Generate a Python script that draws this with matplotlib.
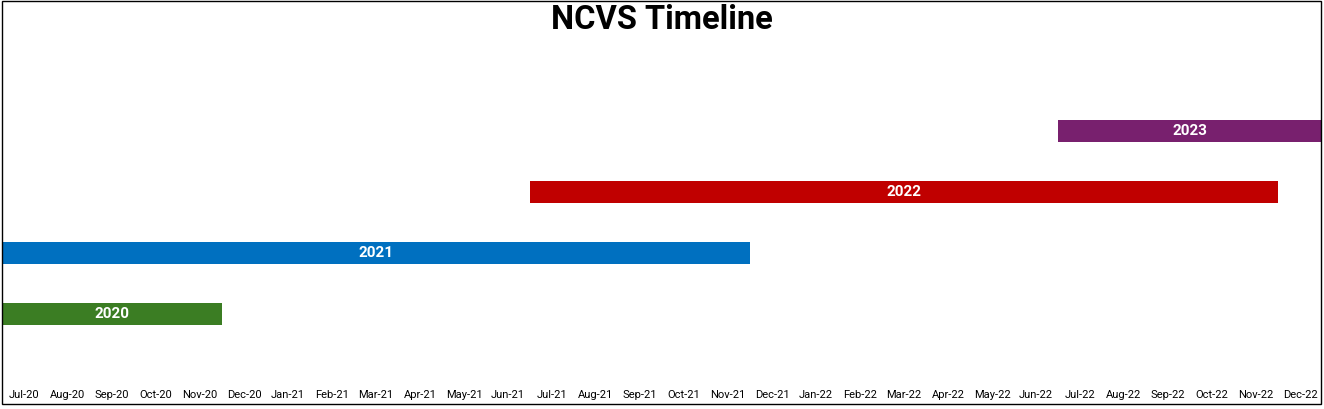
import matplotlib.pyplot as plt
from matplotlib.patches import Rectangle

# month axis: Jul-20 .. Dec-22
months = ["Jul-20", "Aug-20", "Sep-20", "Oct-20", "Nov-20", "Dec-20",
          "Jan-21", "Feb-21", "Mar-21", "Apr-21", "May-21", "Jun-21",
          "Jul-21", "Aug-21", "Sep-21", "Oct-21", "Nov-21", "Dec-21",
          "Jan-22", "Feb-22", "Mar-22", "Apr-22", "May-22", "Jun-22",
          "Jul-22", "Aug-22", "Sep-22", "Oct-22", "Nov-22", "Dec-22"]

# timeline rows
labels = ["2020", "2021", "2022", "2023"]
start_month = ["Jul-20", "Jul-20", "Jul-21", "Jul-22"]
end_month = ["Dec-20", "Dec-21", "Dec-22", "Jan-23"]   # exclusive end
colors = ["#3B7D23", "#0070C0", "#C00000", "#78206E"]

plt.rcParams["font.family"] = ["Roboto", "DejaVu Sans"]

W, H = 1324, 409
fig = plt.figure(figsize=(W / 100, H / 100), dpi=100)

# plot area in pixels: left 2, right 1322, top 40, bottom 375
ax = fig.add_axes([2 / W, (H - 375) / H, 1320 / W, (375 - 40) / H])

def month_pos(m):
    if m in months:
        return months.index(m)
    return len(months)

for i, lab in enumerate(labels):
    s = month_pos(start_month[i])
    e = month_pos(end_month[i])
    ax.barh(i, e - s, left=s, height=0.36, color=colors[i])
    ax.text(s + (e - s) / 2, i, lab, color="white", fontsize=11,
            fontweight="bold", ha="center", va="center")

ax.set_xlim(0, len(months))
ax.set_ylim(-1.008, 4.50)
ax.set_xticks([k + 0.5 for k in range(len(months))])
ax.set_xticklabels(months, fontsize=8)
ax.tick_params(axis="x", length=0, pad=11)
ax.set_yticks([])
for sp in ax.spines.values():
    sp.set_visible(False)

fig.text(0.5, (H - 20) / H, "NCVS Timeline", fontsize=23.5, fontweight="bold",
         ha="center", va="center")

# chart border
fig.patches.append(Rectangle((2 / W, (H - 403.5) / H), 1319 / W, 402.5 / H,
                             transform=fig.transFigure, fill=False,
                             edgecolor="black", linewidth=1))

plt.savefig("out.png", dpi=100)
